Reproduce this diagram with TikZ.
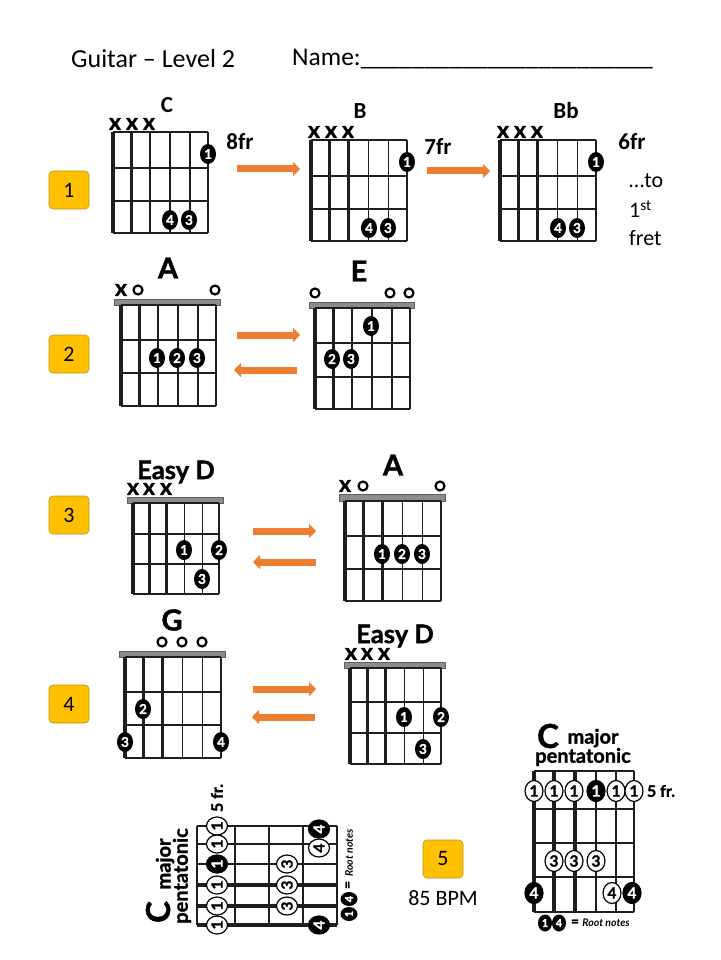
\documentclass[tikz,border=0pt]{standalone}
\usepackage{fontspec}
\setmainfont{Carlito}
\newfontfamily\gillfont{Lato Bold}[RawFeature={embolden=1.3}]
\newfontfamily\noteitalic{Lato Bold Italic}
\usetikzlibrary{shapes.geometric,arrows.meta}
\definecolor{BadgeGold}{RGB}{255,192,0}
\definecolor{BadgeEdge}{RGB}{190,145,30}
\definecolor{SwapOrange}{RGB}{237,125,49}
\definecolor{NutGrey}{RGB}{140,140,140}
\definecolor{GridInk}{RGB}{30,30,30}
% strings and frets of one chord box: x0, x1, top, fret 1, fret 2, bottom
\newcommand{\chordgrid}[6]{
  \foreach \f in {#3,#4,#5,#6} \draw[gridline] (#1,\f) -- (#2,\f);
  \foreach \s/\w in {0/3.6,0.19/3,0.39/2.8,0.6/1.2,0.81/1.2,1/1.2}
    \draw[gridline, line width=\w pt] ({#1+\s*(#2-#1)},#3) -- ({#1+\s*(#2-#1)},#6);
}
\begin{document}
\begin{tikzpicture}[
  x=1pt, y=-1pt,
  every node/.style={inner sep=0pt, text=black},
  gridline/.style={draw=GridInk, line width=1.2pt},
  nutbar/.style={draw=GridInk!70, fill=NutGrey, line width=0.7pt},
  bodytext/.style={font=\fontsize{22}{26}\selectfont},
  titletext/.style={font=\fontsize{26}{28}\selectfont, anchor=west},
  nametext/.style={font=\fontsize{25.5}{28}\selectfont, anchor=west},
  fretlabel/.style={font=\fontsize{23}{26}\selectfont\bfseries},
  chordname/.style={font=\gillfont\fontsize{29}{32}\selectfont},
  easyname/.style={font=\gillfont\fontsize{25.5}{28}\selectfont},
  mutemark/.style={font=\gillfont\fontsize{23}{24}\selectfont},
  openmark/.style={circle, draw=black, line width=2.2pt, minimum size=9pt},
  fingerdot/.style={ellipse, fill=black, minimum width=16pt, minimum height=20pt,
    text=white, font=\gillfont\fontsize{13.5}{15}\selectfont},
  scaledot/.style={ellipse, draw=black, fill=white, line width=1.2pt, minimum width=18pt, minimum height=21pt,
    font=\gillfont\fontsize{15.5}{17}\selectfont},
  rootdot/.style={scaledot, fill=black, text=white},
  legenddot/.style={ellipse, fill=black, text=white, minimum width=14pt, minimum height=17pt,
    font=\gillfont\fontsize{11}{12}\selectfont},
  scaletitle/.style={font=\gillfont\fontsize{20}{22}\selectfont},
  scalebig/.style={font=\gillfont\fontsize{33}{33}\selectfont},
  scalenote/.style={font=\gillfont\fontsize{16}{17}\selectfont},
  rootnote/.style={font=\noteitalic\fontsize{10.5}{11}\selectfont},
  equalsign/.style={font=\gillfont\fontsize{14}{15}\selectfont},
  badge/.style={draw=BadgeEdge, fill=BadgeGold, rounded corners=4pt, line width=0.6pt,
    minimum width=40pt, minimum height=38pt, font=\fontsize{22}{26}\selectfont},
  swaparrow/.style={draw=SwapOrange, line width=7pt, -{Triangle[length=7pt, width=14pt]}}
]
\useasboundingbox (0,0) rectangle (720,960);
\fill[white] (0,0) rectangle (720,960);

% header
\node[titletext] (title) at (71,59) {Guitar – Level 2};
\node[nametext] (name) at (292,59) {Name:\_\_\_\_\_\_\_\_\_\_\_\_\_\_\_\_\_\_\_\_\_\_\_};

% row 1
\node[badge] (b1) at (69,190) {1};
\chordgrid{113}{208}{132}{168}{201}{233}
\foreach \x in {115,132,149} \node[mutemark] (cm\x) at (\x,124) {x};
\node[fretlabel] (cname) at (167,105) {C};
\node[fingerdot] (c1) at (208,154) {1};
\node[fingerdot] (c4) at (170,220) {4};
\node[fingerdot] (c3) at (189,220) {3};
\node[fretlabel] (fr8) at (240,142) {8fr};
\coordinate (s1a) at (237,169);
\coordinate (s1b) at (300,169);
\draw[swaparrow] (s1a) -- (s1b);

\chordgrid{311}{407}{140}{176}{209}{241}
\foreach \x in {314,331,348} \node[mutemark] (bm\x) at (\x,132) {x};
\node[fretlabel] (bname) at (360,111) {B};
\node[fingerdot] (bb1) at (407,162) {1};
\node[fingerdot] (bb4) at (369,228) {4};
\node[fingerdot] (bb3) at (388,228) {3};
\node[fretlabel] (fr7) at (438,147) {7fr};
\coordinate (s2a) at (427,171);
\coordinate (s2b) at (490,171);
\draw[swaparrow] (s2a) -- (s2b);

\chordgrid{500}{596}{140}{176}{209}{241}
\foreach \x in {503,520,537} \node[mutemark] (fm\x) at (\x,132) {x};
\node[fretlabel] (flat) at (566,111) {Bb};
\node[fingerdot] (f1) at (596,162) {1};
\node[fingerdot] (f4) at (558,228) {4};
\node[fingerdot] (f3) at (577,228) {3};
\node[fretlabel] (fr6) at (632,142) {6fr};
\node[bodytext, anchor=west] (to) at (629,181) {…to};
\node[bodytext, anchor=west] (first) at (629,209) {1\textsuperscript{st}};
\node[bodytext, anchor=west] (fret) at (629,238) {fret};

% row 2
\node[badge] (b2) at (69,354) {2};
\draw[nutbar] (114,299) rectangle (220,305);
\chordgrid{121}{216}{305}{340}{373}{406}
\node[mutemark] (am) at (121,290) {x};
\node[openmark] (ao1) at (138,290) {};
\node[openmark] (ao2) at (215,290) {};
\node[chordname] (aname) at (168,268) {A};
\node[fingerdot] (a1) at (157,358) {1};
\node[fingerdot] (a2) at (177,358) {2};
\node[fingerdot] (a3) at (197,358) {3};
\coordinate (s3a) at (237,335);
\coordinate (s3b) at (300,335);
\draw[swaparrow] (s3a) -- (s3b);
\coordinate (s4a) at (297,370);
\coordinate (s4b) at (234,370);
\draw[swaparrow] (s4a) -- (s4b);

\draw[nutbar] (309,302) rectangle (414,308);
\chordgrid{315}{410}{308}{343}{377}{409}
\node[openmark] (eo1) at (315,293) {};
\node[openmark] (eo2) at (390,293) {};
\node[openmark] (eo3) at (409,293) {};
\node[chordname] (ename) at (359,271) {E};
\node[fingerdot] (e1) at (371,326) {1};
\node[fingerdot] (e2) at (332,359) {2};
\node[fingerdot] (e3) at (351,359) {3};

% row 3
\node[badge] (b3) at (69,515) {3};
\draw[nutbar] (127,497) rectangle (223,503);
\chordgrid{133}{219}{503}{534}{564}{594}
\foreach \x in {133,149,166} \node[mutemark] (dm\x) at (\x,489) {x};
\node[easyname] (dname) at (176,472) {Easy D};
\node[fingerdot] (d1) at (184,550) {1};
\node[fingerdot] (d2) at (219,550) {2};
\node[fingerdot] (d3) at (202,579) {3};
\coordinate (s5a) at (253,531);
\coordinate (s5b) at (316,531);
\draw[swaparrow] (s5a) -- (s5b);
\coordinate (s6a) at (316,562);
\coordinate (s6b) at (253,562);
\draw[swaparrow] (s6a) -- (s6b);

\draw[nutbar] (339,494) rectangle (445,501);
\chordgrid{345}{441}{501}{536}{569}{601}
\node[mutemark] (pm) at (345,486) {x};
\node[openmark] (po1) at (363,486) {};
\node[openmark] (po2) at (440,486) {};
\node[chordname] (pname) at (393,465) {A};
\node[fingerdot] (p1) at (382,554) {1};
\node[fingerdot] (p2) at (402,554) {2};
\node[fingerdot] (p3) at (422,554) {3};

% row 4
\node[badge] (b4) at (69,704) {4};
\draw[nutbar] (119,651) rectangle (225,657);
\chordgrid{125}{221}{657}{692}{725}{758}
\node[openmark] (go1) at (162,642) {};
\node[openmark] (go2) at (182,642) {};
\node[openmark] (go3) at (202,642) {};
\node[chordname] (gname) at (172,620) {G};
\node[fingerdot] (g2) at (143,709) {2};
\node[fingerdot] (g3) at (125,742) {3};
\node[fingerdot] (g4) at (221,742) {4};
\coordinate (s7a) at (253,689);
\coordinate (s7b) at (316,689);
\draw[swaparrow] (s7a) -- (s7b);
\coordinate (s8a) at (315,717);
\coordinate (s8b) at (252,717);
\draw[swaparrow] (s8a) -- (s8b);

\draw[nutbar] (344,662) rectangle (445,668);
\chordgrid{350}{441}{668}{702}{733}{764}
\foreach \x in {351,367,384} \node[mutemark] (hm\x) at (\x,654) {x};
\node[easyname] (hname) at (395,636) {Easy D};
\node[fingerdot] (h1) at (404,717) {1};
\node[fingerdot] (h2) at (441,717) {2};
\node[fingerdot] (h3) at (423,749) {3};

% bottom middle
\node[badge] (b5) at (443,859) {5};
\node[bodytext] (bpm) at (443,898) {85 BPM};

% upright scale
\node[scalebig] (ubig) at (548,736) {C};
\node[scaletitle] (umajor) at (593,738) {major};
\node[scaletitle] (upenta) at (583,757) {pentatonic};
\foreach \f in {771,809,843,877,912} \draw[gridline] (534,\f) -- (634,\f);
\foreach \s/\w in {534/4,554/3.6,575/3.6,596/1.2,616/1.2,634/1.2}
  \draw[gridline, line width=\w pt] (\s,771) -- (\s,912);
\foreach \x in {534,554,574,616,634} \node[scaledot] (ua\x) at (\x,791) {1};
\node[rootdot] (uroot) at (596,791) {1};
\node[scalenote] (ufive) at (661,791) {5 fr.};
\foreach \x in {554,574,596} \node[scaledot] (uc\x) at (\x,861) {3};
\node[rootdot] (ud1) at (534,893) {4};
\node[scaledot] (ud2) at (612,893) {4};
\node[rootdot] (ud3) at (632,893) {4};
\node[legenddot] (ul1) at (545,923) {1};
\node[legenddot] (ul4) at (559,923) {4};
\node[equalsign] (ueq) at (575,923) {=};
\node[rootnote] (unote) at (606,923) {Root notes};

% sideways scale
\node[scalebig, rotate=90] (sbig) at (158,912) {C};
\node[scaletitle, rotate=90] (smajor) at (165,864) {major};
\node[scaletitle, rotate=90] (spenta) at (182,876) {pentatonic};
\foreach \f in {197,235,269,303,337} \draw[gridline] (\f,826) -- (\f,925);
\foreach \s/\w in {826/1.2,844/1.2,864/1.2,885/3.6,906/3.6,925/4}
  \draw[gridline, line width=\w pt] (197,\s) -- (337,\s);
\foreach \y in {826,844,885,906,925} \node[scaledot, rotate=90] (sa\y) at (217,\y) {1};
\node[rootdot, rotate=90] (sroot) at (217,864) {1};
\node[scalenote, rotate=90] (sfive) at (217,798) {5 fr.};
\foreach \y in {864,885,906} \node[scaledot, rotate=90] (sc\y) at (287,\y) {3};
\node[rootdot, rotate=90] (sd1) at (319,829) {4};
\node[scaledot, rotate=90] (sd2) at (319,848) {4};
\node[rootdot, rotate=90] (sd3) at (319,925) {4};
\node[legenddot, rotate=90] (sl1) at (349,914) {1};
\node[legenddot, rotate=90] (sl4) at (349,899) {4};
\node[equalsign, rotate=90] (seq) at (349,885) {=};
\node[rootnote, rotate=90] (snote) at (349,853) {Root notes};
\end{tikzpicture}
\end{document}
